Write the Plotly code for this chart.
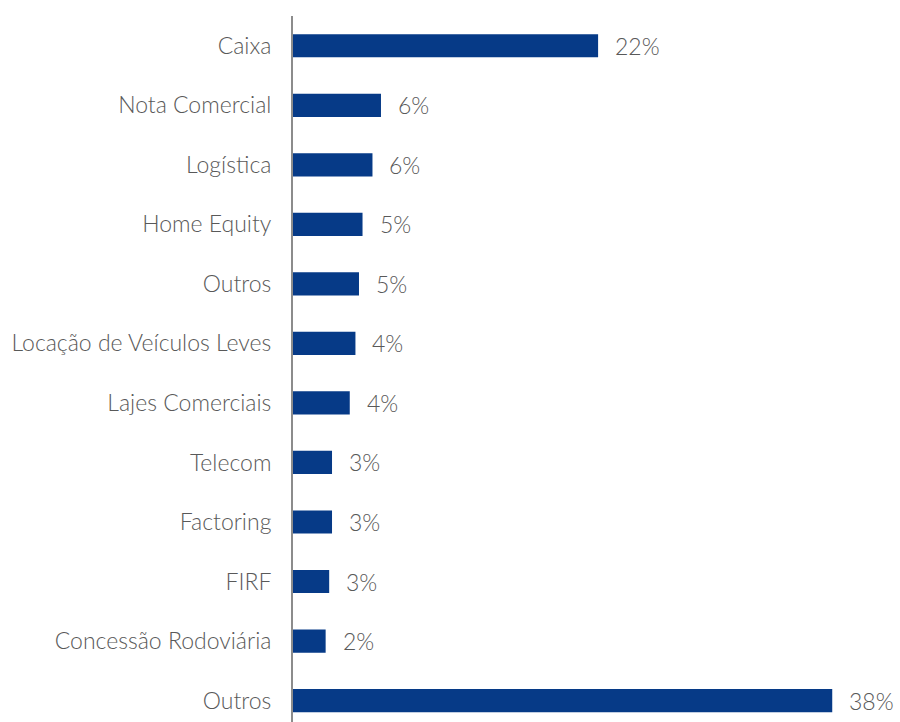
import plotly.graph_objects as go

categories = ["Caixa", "Nota Comercial", "Logística", "Home Equity", "Outros",
              "Locação de Veículos Leves", "Lajes Comerciais", "Telecom",
              "Factoring", "FIRF", "Concessão Rodoviária", "Outros"]
values = [21.5, 6.2, 5.6, 4.9, 4.65, 4.4, 4.0, 2.75, 2.75, 2.55, 2.3, 38.0]
labels = ["22%", "6%", "6%", "5%", "5%", "4%", "4%", "3%", "3%", "3%", "2%", "38%"]

pos = list(range(len(categories)))
FONT = dict(family="Lato", size=23, color="#595959", weight=300)

fig = go.Figure()
fig.add_trace(go.Bar(
    x=values, y=pos, orientation="h",
    marker=dict(color="#063a87", line=dict(width=0)),
    width=0.39, hoverinfo="skip",
))

for p, v, t in zip(pos, values, labels):
    fig.add_annotation(x=v, y=p, text=t, showarrow=False, xanchor="left",
                       xshift=15, font=FONT)

fig.update_layout(
    width=900, height=722,
    margin=dict(l=293, r=11, t=16, b=0),
    paper_bgcolor="white", plot_bgcolor="white",
    showlegend=False,
    font=FONT,
    xaxis=dict(range=[0, 42], visible=False, showgrid=False, zeroline=False),
    yaxis=dict(range=[11.36, -0.5], tickvals=pos, ticktext=categories,
               showline=True, linecolor="#8c8c8c", linewidth=2,
               showgrid=False, zeroline=False, ticks="",
               ticklabelstandoff=15,
               tickfont=FONT),
)

fig.write_html("out.html", config={"displayModeBar": False},
               post_script="document.body.style.margin='0';")
